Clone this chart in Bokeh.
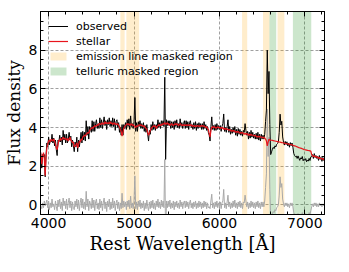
import numpy as np
from bokeh.plotting import figure
from bokeh.models import Range1d, LinearAxis, FixedTicker, CustomLabelingPolicy
from bokeh.embed import file_html
from bokeh.resources import INLINE

# ---------------- data ----------------
wave_start = 3900   # Angstrom
wave_step = 10      # Angstrom

# stellar model (red), one row per 100 Angstrom
stellar = [
    2.85, 2.6, 2.1, 2.5, 2.7, 2.4, 1.5, 2.5, 2.95, 3.15,          # 3900
    3.3, 3.35, 3.25, 3.4, 3.35, 3.3, 3.4, 3.3, 3.15, 2.95,         # 4000
    2.85, 3.1, 3.35, 3.3, 3.45, 3.35, 3.4, 3.5, 3.4, 3.45,         # 4100
    3.4, 3.35, 3.45, 3.3, 3.4, 3.5, 3.35, 3.3, 3.2, 3.25,          # 4200
    3.0, 3.05, 3.1, 3.2, 2.95, 3.1, 3.3, 3.25, 3.4, 3.35,          # 4300
    3.5, 3.55, 3.6, 3.55, 3.65, 3.7, 3.75, 3.7, 3.85, 3.9,         # 4400
    3.95, 4.0, 3.95, 4.05, 4.1, 4.05, 4.1, 4.15, 4.1, 4.2,         # 4500
    4.2, 4.15, 4.2, 4.25, 4.15, 4.2, 4.3, 4.2, 4.25, 4.2,          # 4600
    4.25, 4.2, 4.3, 4.2, 4.25, 4.15, 4.2, 4.25, 4.15, 4.2,         # 4700
    4.15, 4.2, 4.1, 4.05, 3.9, 3.8, 3.55, 3.75, 3.95, 4.05,        # 4800
    4.1, 4.15, 4.2, 4.15, 4.2, 4.1, 4.15, 4.2, 4.1, 4.15,          # 4900
    4.1, 4.05, 4.0, 4.1, 4.05, 4.1, 4.15, 4.1, 4.15, 4.1,          # 5000
    4.1, 4.05, 4.1, 4.0, 3.95, 3.9, 3.75, 3.6, 3.7, 3.85,          # 5100
    3.95, 4.0, 4.05, 4.1, 4.05, 4.1, 3.95, 4.05, 4.1, 4.15,        # 5200
    4.1, 4.15, 4.1, 4.2, 4.15, 4.2, 4.25, 4.15, 4.2, 4.25,         # 5300
    4.15, 4.2, 4.1, 4.15, 4.2, 4.15, 4.1, 4.15, 4.2, 4.15,         # 5400
    4.2, 4.15, 4.1, 4.15, 4.2, 4.15, 4.1, 4.15, 4.1, 4.15,         # 5500
    4.1, 4.15, 4.1, 4.15, 4.1, 4.15, 4.1, 4.15, 4.05, 4.1,         # 5600
    4.1, 4.05, 4.1, 4.05, 4.1, 4.1, 4.05, 4.1, 4.05, 4.1,          # 5700
    4.1, 4.05, 4.1, 4.05, 4.0, 4.05, 3.95, 3.9, 3.7, 3.5,          # 5800
    3.85, 4.0, 4.05, 4.0, 4.05, 4.0, 3.95, 4.0, 4.05, 4.0,         # 5900
    4.0, 3.95, 4.0, 3.95, 4.0, 3.9, 3.95, 3.9, 3.95, 3.9,          # 6000
    3.9, 3.85, 3.9, 3.85, 3.8, 3.85, 3.8, 3.85, 3.8, 3.75,         # 6100
    3.8, 3.75, 3.8, 3.75, 3.7, 3.75, 3.7, 3.75, 3.7, 3.65,         # 6200
    3.7, 3.65, 3.7, 3.65, 3.6, 3.65, 3.6, 3.65, 3.6, 3.6,          # 6300
    3.6, 3.55, 3.6, 3.55, 3.5, 3.55, 3.5, 3.55, 3.5, 3.5,          # 6400
    3.5, 3.45, 3.5, 3.45, 3.4, 3.3, 3.05, 3.25, 3.4, 3.35,         # 6500
    3.35, 3.34, 3.33, 3.32, 3.31, 3.3, 3.29, 3.28, 3.27, 3.26,     # 6600
    3.25, 3.24, 3.23, 3.22, 3.21, 3.2, 3.19, 3.18, 3.17, 3.16,     # 6700
    3.15, 3.14, 3.13, 3.12, 3.11, 3.1, 3.08, 3.06, 3.05, 3.04,     # 6800
    3.02, 3.0, 2.98, 2.96, 2.95, 2.93, 2.92, 2.9, 2.88, 2.86,      # 6900
    2.85, 2.84, 2.83, 2.82, 2.81, 2.8, 2.79, 2.78, 2.6, 2.55,      # 7000
    2.5, 2.55, 2.5, 2.45, 2.5, 2.45, 2.4, 2.45, 2.4, 2.4,          # 7100
    2.35, 2.4, 2.35, 2.3, 2.3,                                     # 7200
]

# residual = observed - stellar (grey), one row per 100 Angstrom
residual = [
    0.15, -0.1, -0.2, 0.1, -0.15, 0.2, -0.05, 0.1, 0.25, -0.15,     # 3900
    0.2, -0.25, 0.1, -0.15, 0.3, -0.1, 0.05, -0.25, 0.2, -0.1,      # 4000
    -0.3, 0.25, -0.1, 0.3, -0.2, 0.15, -0.3, 0.35, -0.05, 0.2,      # 4100
    -0.2, 0.3, -0.25, 0.1, 0.35, -0.15, 0.2, -0.3, 0.15, -0.2,      # 4200
    -0.25, 0.2, -0.1, 0.3, -0.2, 0.25, -0.3, 0.1, 0.35, -0.15,      # 4300
    0.3, -0.2, 0.15, -0.25, 0.7, -0.1, 0.3, -0.3, 0.2, 0.05,        # 4400
    -0.2, 0.35, -0.15, 0.25, -0.3, 0.15, 0.3, -0.2, 0.1, -0.25,     # 4500
    0.3, -0.15, 0.2, -0.3, 0.1, 0.35, -0.2, 0.15, -0.35, 0.2,       # 4600
    -0.1, 0.3, -0.25, 0.15, -0.2, 0.35, -0.15, 0.2, -0.3, 0.1,      # 4700
    0.25, -0.2, 0.15, -0.3, 0.1, -0.2, 0.6, -0.15, 0.2, -0.1,       # 4800
    0.15, -0.25, 0.2, -0.1, 0.25, -0.2, 0.45, -0.15, 0.1, -0.2,     # 4900
    0.2, 1.5, -0.2, 0.15, -0.25, 0.2, -0.1, 0.25, -0.2, 0.1,        # 5000
    -0.15, 0.2, -0.3, 0.1, -0.2, 0.25, -0.1, -0.3, 0.15, -0.2,      # 5100
    0.2, -0.15, 0.25, -0.2, 0.1, -0.25, 0.2, -0.1, 0.3, -0.15,      # 5200
    0.15, -0.2, 0.25, -0.1, 0.2, -0.15, 2.35, -1.8, 0.2, -0.15,     # 5300
    0.2, -0.1, 0.25, -0.2, 0.1, -0.15, 0.2, -0.25, 0.15, -0.1,      # 5400
    0.2, -0.15, 0.1, -0.2, 0.25, -0.1, 0.15, -0.2, 0.1, 0.2,        # 5500
    -0.15, 0.2, -0.1, 0.15, -0.2, 0.1, 0.25, -0.15, 0.1, -0.2,      # 5600
    0.15, -0.1, 0.2, -0.2, 0.1, -0.15, 0.2, -0.1, 0.15, -0.2,       # 5700
    0.1, -0.15, 0.2, -0.1, 0.15, -0.2, 0.1, -0.15, -0.1, -0.2,      # 5800
    0.2, 0.55, -0.15, 0.1, -0.2, 0.15, -0.1, 0.2, -0.15, 0.1,       # 5900
    -0.1, 0.15, -0.2, 0.1, 0.2, 0.8, -0.15, 0.1, -0.2, 0.15,        # 6000
    0.5, -0.1, 0.15, -0.2, 0.1, -0.15, 0.2, -0.1, 0.25, -0.15,      # 6100
    0.1, -0.2, 0.15, -0.1, 0.2, -0.15, 0.1, -0.2, 0.15, 0.1,        # 6200
    0.5, 0.2, -0.1, 0.15, -0.2, 0.1, -0.15, 0.2, -0.1, 0.15,        # 6300
    -0.15, 0.1, -0.2, 0.15, -0.1, 0.2, -0.15, 0.1, -0.2, 0.15,      # 6400
    -0.1, 0.15, -0.1, 0.2, 0.9, 1.6, 4.95, 2.5, 3.5, 0.8,           # 6500
    -0.75, -0.6, -0.45, -0.35, -0.4, -0.25, -0.3, -0.15, -0.1, 0.0, # 6600
    0.5, 1.45, 0.9, 1.1, 0.3, 0.05, -0.1, 0.1, -0.05, 0.1,          # 6700
    -0.1, 0.05, -0.15, 0.1, -0.05, 0.1, -0.1, -0.4, -0.5, -0.55,    # 6800
    -0.5, -0.6, -0.45, -0.55, -0.65, -0.5, -0.55, -0.4, -0.6, -0.5, # 6900
    -0.55, -0.45, -0.6, -0.5, -0.55, -0.4, -0.5, -0.3, -0.1, 0.05,  # 7000
    -0.1, 0.1, -0.05, 0.1, -0.1, 0.05, -0.1, 0.1, -0.05, 0.05,      # 7100
    -0.1, 0.05, -0.05, 0.1, -0.05,                                  # 7200
]

emission_left = [4840, 4910, 6265, 6510, 6680]
emission_right = [4890, 5060, 6325, 6585, 6760]
telluric_left = [6585, 6860]
telluric_right = [6665, 7075]

x_ticks = [4000, 5000, 6000, 7000]
y_ticks = [0, 2, 4, 6, 8]
x_range = (3905, 7230)
y_range = (-0.5, 10)

assert len(stellar) == len(residual)
wave = wave_start + wave_step * np.arange(len(stellar))
stellar_a = np.array(stellar)
residual_a = np.array(residual)
observed = stellar_a + residual_a

# ---------------- figure ----------------
p = figure(width=333, height=256, output_backend="svg", toolbar_location=None,
           x_range=Range1d(*x_range), y_range=Range1d(*y_range),
           min_border_left=2, min_border_right=2, min_border_top=1, min_border_bottom=0)
p.background_fill_color = "white"
p.outline_line_color = "black"
p.outline_line_width = 1

ymin, ymax = y_range
p.quad(left=emission_left, right=emission_right,
       bottom=[ymin] * len(emission_left), top=[ymax] * len(emission_left),
       fill_color="orange", fill_alpha=0.2, line_color=None,
       legend_label="emission line masked region")
p.quad(left=telluric_left, right=telluric_right,
       bottom=[ymin] * len(telluric_left), top=[ymax] * len(telluric_left),
       fill_color="green", fill_alpha=0.2, line_color=None,
       legend_label="telluric masked region")

p.line(wave, residual_a, line_color="#a8a8a8", line_width=1)
p.line(wave, observed, line_color="black", line_width=1, legend_label="observed")
p.line(wave, stellar_a, line_color="#e8141c", line_width=1.2, legend_label="stellar")

# axes
x_minor = list(np.arange(3800, 7400, 200))
y_minor = list(np.arange(-0.5, 10.01, 0.5))
xt = FixedTicker(ticks=x_ticks, minor_ticks=x_minor)
yt = FixedTicker(ticks=y_ticks, minor_ticks=y_minor)
p.xaxis.ticker = xt
p.yaxis.ticker = yt

hide_labels = CustomLabelingPolicy(code="""
    try { for (const i of Array.from(indices)) indices.unset(i) } catch (e) {}
    return indices
""")

def style_axis(ax, labels=True, label_size="17px"):
    ax.major_tick_in = 5
    ax.major_tick_out = 0
    ax.minor_tick_in = 3
    ax.minor_tick_out = 0
    ax.axis_line_color = "black"
    ax.major_tick_line_color = "black"
    ax.minor_tick_line_color = "black"
    if labels:
        ax.major_label_text_font = "DejaVu Sans"
        ax.major_label_text_font_size = "14px"
        ax.major_label_text_color = "black"
        ax.major_label_standoff = 3
        ax.axis_label_text_font = "DejaVu Serif"
        ax.axis_label_text_font_size = label_size
        ax.axis_label_text_font_style = "normal"
        ax.axis_label_text_color = "black"
        ax.axis_label_standoff = 2
    else:
        ax.major_label_policy = hide_labels
        ax.major_label_standoff = 0

p.xaxis.axis_label = "Rest Wavelength [Å]"
p.yaxis.axis_label = "Flux density"
style_axis(p.xaxis[0], label_size="18px")
style_axis(p.yaxis[0], label_size="17px")

top_ax = LinearAxis(ticker=xt)
right_ax = LinearAxis(ticker=yt)
style_axis(top_ax, labels=False)
style_axis(right_ax, labels=False)
p.add_layout(top_ax, "above")
p.add_layout(right_ax, "right")

for g in (p.xgrid[0], p.ygrid[0]):
    g.grid_line_color = "#888888"
    g.grid_line_dash = "3 2"
    g.grid_line_width = 0.8

leg = p.legend[0]
leg.items = [leg.items[2], leg.items[3], leg.items[0], leg.items[1]]
leg.location = "top_left"
leg.background_fill_alpha = 0
leg.border_line_alpha = 0
leg.label_text_font = "DejaVu Sans"
leg.label_text_font_size = "11px"
leg.label_text_color = "black"
leg.glyph_width = 20
leg.glyph_height = 10
leg.label_height = 14
leg.spacing = 1
leg.padding = 4
leg.margin = 4
leg.label_standoff = 8

open("out.html", "w").write(file_html(p, INLINE))
